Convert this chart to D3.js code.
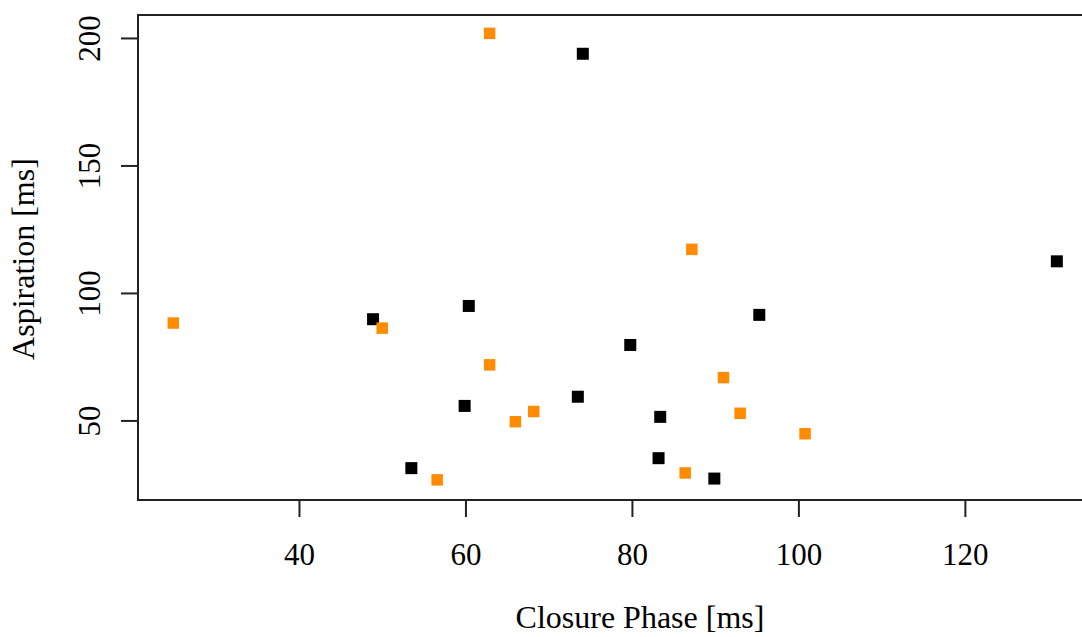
<!DOCTYPE html>
<html>
<head>
<meta charset="utf-8">
<script src="https://cdn.jsdelivr.net/npm/d3@7"></script>
<style>
  html, body { margin: 0; padding: 0; background: #fff; }
  svg { display: block; }
  text { font-family: "Liberation Serif", "Times New Roman", serif; fill: #000; }
</style>
</head>
<body>
<svg id="chart" width="1082" height="637"></svg>
<script>
// Closure phase vs aspiration, two groups of tokens
const orangeClosure = [24.9, 50.0, 62.9, 87.2, 62.9, 91.0, 66.0, 68.2, 93.0, 100.8, 56.6, 86.4];
const orangeAspiration = [88.2, 86.2, 201.8, 117.1, 71.8, 66.8, 49.5, 53.5, 52.8, 44.8, 26.7, 29.4];
const blackClosure = [74.1, 131.05, 48.9, 60.4, 95.3, 79.8, 73.5, 59.9, 83.4, 83.2, 53.5, 89.9];
const blackAspiration = [193.8, 112.4, 89.7, 94.9, 91.4, 79.6, 59.3, 55.7, 51.4, 35.2, 31.3, 27.2];
const xTicks = [40, 60, 80, 100, 120];
const yTicks = [50, 100, 150, 200];
const xDomain = [20.66, 141.4];
const yDomain = [18.8, 209.0];

const plot = { left: 138, right: 1143, top: 15, bottom: 500 };
const svg = d3.select("#chart");

const x = d3.scaleLinear().domain(xDomain).range([plot.left, plot.right]);
const y = d3.scaleLinear().domain(yDomain).range([plot.bottom, plot.top]);

// axes
const xAxis = svg.append("g")
  .attr("transform", `translate(0,${plot.bottom})`)
  .call(d3.axisBottom(x).tickValues(xTicks).tickSize(17).tickSizeOuter(0));
xAxis.select(".domain").remove();
xAxis.selectAll(".tick line").attr("stroke", "#222").attr("stroke-width", 2);
xAxis.selectAll(".tick text")
  .attr("y", 65).attr("dy", 0)
  .style("font-size", "31px").style("font-family", "Liberation Serif").attr("fill", "#000");

const yAxis = svg.append("g")
  .attr("transform", `translate(${plot.left},0)`)
  .call(d3.axisLeft(y).tickValues(yTicks).tickSize(17).tickSizeOuter(0));
yAxis.select(".domain").remove();
yAxis.selectAll(".tick line").attr("stroke", "#222").attr("stroke-width", 2);
yAxis.selectAll(".tick text")
  .attr("x", 0).attr("dy", 0)
  .attr("transform", "translate(-38,0) rotate(-90)")
  .attr("text-anchor", "middle")
  .style("font-size", "31px").style("font-family", "Liberation Serif").attr("fill", "#000");

// plot frame
svg.append("rect")
  .attr("x", plot.left).attr("y", plot.top)
  .attr("width", plot.right - plot.left).attr("height", plot.bottom - plot.top)
  .attr("fill", "none").attr("stroke", "#222").attr("stroke-width", 2);

// points
function drawSquares(xs, ys, color, size) {
  svg.append("g").selectAll("rect")
    .data(xs.map((v, i) => [v, ys[i]]))
    .join("rect")
    .attr("x", d => x(d[0]) - size / 2)
    .attr("y", d => y(d[1]) - size / 2)
    .attr("width", size).attr("height", size)
    .attr("fill", color);
}
drawSquares(blackClosure, blackAspiration, "#000", 12);
drawSquares(orangeClosure, orangeAspiration, "#FF8C00", 11.5);

// axis titles
svg.append("text")
  .attr("x", 640).attr("y", 628)
  .attr("text-anchor", "middle")
  .style("font-size", "32px")
  .text("Closure Phase [ms]");

svg.append("text")
  .attr("transform", "translate(34,259) rotate(-90)")
  .attr("text-anchor", "middle")
  .style("font-size", "32px")
  .text("Aspiration [ms]");
</script>
</body>
</html>
